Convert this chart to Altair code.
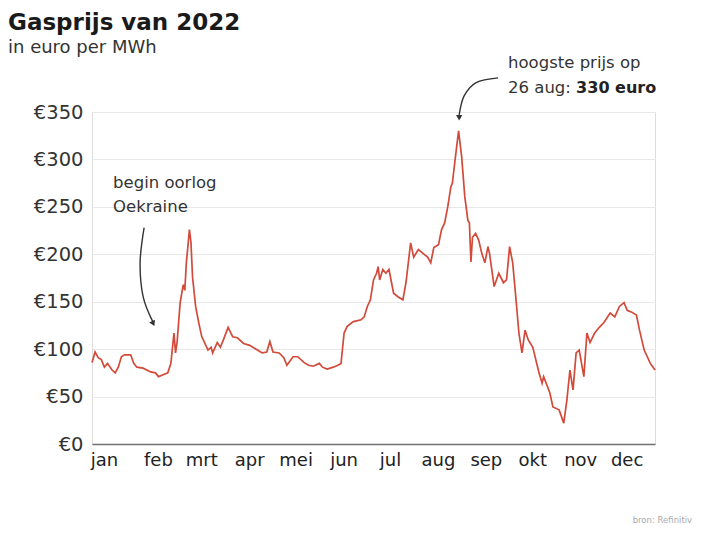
import altair as alt
import pandas as pd

# day of year (0 = 1 jan 2022) and gas price (euro per MWh)
days = [0, 2, 4, 6, 8, 10, 13, 15, 17, 19,
        21, 25, 27, 29, 33, 38, 41, 43, 46, 49,
        51, 53, 54, 55, 57, 59, 60, 61, 63, 64,
        65, 67, 69, 71, 73, 75, 77, 78, 81, 83,
        85, 88, 91, 94, 98, 102, 107, 110, 113, 115,
        117, 121, 124, 126, 130, 133, 137, 140, 143, 147,
        149, 152, 156, 159, 161, 163, 165, 169, 174, 176,
        178, 180, 182, 184, 185, 186, 188, 190, 192, 195,
        198, 201, 203, 206, 208, 211, 214, 217, 219, 221,
        224, 226, 228, 230, 232, 233, 235, 237, 239, 241,
        243, 244, 245, 246, 248, 250, 252, 254, 256, 257,
        260, 263, 266, 268, 270, 272, 274, 276, 278, 280,
        282, 285, 289, 291, 292, 296, 298, 302, 305, 307,
        309, 311, 313, 315, 318, 320, 322, 325, 328, 331,
        335, 338, 341, 344, 346, 349, 352, 354, 357, 361,
        364]
prices = [86, 97, 91, 89, 81, 85, 78, 75, 81, 92,
          94, 94, 85, 81, 80, 76, 75, 71, 73, 75,
          85, 117, 96, 107, 149, 168, 162, 191, 226, 212,
          176, 145, 128, 113, 106, 99, 102, 96, 107, 102,
          110, 123, 113, 112, 106, 104, 99, 96, 97, 108,
          97, 96, 91, 83, 92, 92, 86, 83, 82, 85,
          81, 79, 81, 83, 85, 117, 124, 129, 131, 134,
          145, 152, 173, 180, 187, 173, 184, 180, 184, 159,
          155, 152, 170, 212, 197, 205, 201, 197, 191, 207,
          210, 226, 233, 250, 271, 275, 303, 330, 303, 261,
          236, 233, 192, 218, 222, 215, 201, 191, 208, 201,
          166, 180, 170, 173, 208, 191, 155, 117, 96, 120,
          110, 102, 75, 64, 71, 54, 39, 36, 22, 46,
          78, 57, 96, 99, 71, 117, 107, 117, 123, 128,
          138, 134, 145, 149, 141, 139, 136, 120, 99, 85,
          78]

month_names = ["jan", "feb", "mrt", "apr", "mei", "jun",
               "jul", "aug", "sep", "okt", "nov", "dec"]
y_ticks = [0, 50, 100, 150, 200, 250, 300, 350]

# annotations (day of year, value)
ann_days = [13.6, 13.6, 269, 269]
ann_vals = [275, 250, 402, 375.5]
ann_text = ["begin oorlog", "Oekraine", "hoogste prijs op", "26 aug:"]
bold_day, bold_val, bold_text = 313, 375.5, "330 euro"
arrow_id = [1, 1, 1, 1, 2, 2, 2, 2]
arrow_days = [33.7, 31.1, 33.1, 39.3, 262.6, 248.4, 240.6, 237.4]
arrow_vals = [228, 191, 155, 129, 386, 381, 367, 347]
head_days = [39.6, 237.4]
head_vals = [127, 344]
head_angles = [335, 0]
src_day, src_val, src_text = 388, -80, "bron: Refinitiv"

base = pd.Timestamp("2022-01-01")


def to_date(d):
    return [base + pd.Timedelta(days=float(x)) for x in d]


df = pd.DataFrame({"date": to_date(days), "value": prices})
ann = pd.DataFrame({"date": to_date(ann_days), "value": ann_vals, "text": ann_text})
bold = pd.DataFrame({"date": to_date([bold_day]), "value": [bold_val], "text": [bold_text]})
arr = pd.DataFrame({"date": to_date(arrow_days), "value": arrow_vals,
                    "id": arrow_id, "order": list(range(len(arrow_days)))})
heads = pd.DataFrame({"date": to_date(head_days), "value": head_vals, "angle": head_angles})
src = pd.DataFrame({"date": to_date([src_day]), "value": [src_val], "text": [src_text]})

FONT = "DejaVu Sans"
label_expr = "[" + ",".join("'%s'" % m for m in month_names) + "][month(datum.value)]"

x_enc = alt.X(
    "date:T",
    title=None,
    scale=alt.Scale(domain=[alt.DateTime(year=2022, month=1, date=1),
                            alt.DateTime(year=2022, month=12, date=31)]),
    axis=alt.Axis(
        tickCount={"interval": "month", "step": 1},
        labelExpr=label_expr,
        labelAlign="center",
        labelOffset={"condition": {"test": "month(datum.value) == 0", "value": 12}, "value": 18},
        labelFontSize=18,
        labelColor="#222222",
        labelFont=FONT,
        labelPadding=7,
        ticks=False,
        grid=False,
        domainColor="#707070",
        domainWidth=1.5,
        labelFlush=False,
        labelOverlap=False,
    ),
)
y_enc = alt.Y(
    "value:Q",
    title=None,
    scale=alt.Scale(domain=[0, 350], nice=False),
    axis=alt.Axis(
        values=y_ticks,
        labelExpr="'€' + datum.value",
        labelFontSize=19.5,
        labelColor="#333333",
        labelFont=FONT,
        labelPadding=9,
        ticks=False,
        domain=False,
        gridColor="#e8e8e8",
        gridWidth=1,
    ),
)

line = alt.Chart(df).mark_line(color="#d24a3a", strokeWidth=1.7).encode(x=x_enc, y=y_enc)

arrows = alt.Chart(arr).mark_line(color="#333333", strokeWidth=1.4, interpolate="cardinal").encode(
    x=x_enc, y=y_enc, detail="id:N", order="order:Q")

arrowheads = alt.Chart(heads).mark_point(shape="triangle-down", filled=True, size=40,
                                         color="#333333", opacity=1).encode(
    x=x_enc, y=y_enc, angle=alt.Angle("angle:Q", scale=None))

texts = alt.Chart(ann).mark_text(align="left", baseline="middle", fontSize=16.5,
                                 font=FONT, color="#333333").encode(x=x_enc, y=y_enc, text="text:N")
bold_t = alt.Chart(bold).mark_text(align="left", baseline="middle", fontSize=16, font=FONT,
                                   fontWeight="bold", color="#222222").encode(
    x=x_enc, y=y_enc, text="text:N")
src_t = alt.Chart(src).mark_text(align="right", baseline="middle", fontSize=8.5, font=FONT,
                                 color="#aaaaaa").encode(x=x_enc, y=y_enc, text="text:N")

chart = alt.layer(line, arrows, arrowheads, texts, bold_t, src_t).properties(
    width=563,
    height=332,
    autosize=alt.AutoSizeParams(type="none"),
    padding={"left": 84, "top": 104, "right": 59, "bottom": 83},
    title=alt.TitleParams(
        text="Gasprijs van 2022",
        subtitle="in euro per MWh",
        anchor="start",
        frame="group",
        dx=-84,
        offset=-2,
        font=FONT,
        fontSize=23,
        fontWeight="bold",
        color="#1a1a1a",
        subtitleFont=FONT,
        subtitleFontSize=18,
        subtitleColor="#333333",
        subtitlePadding=4,
    ),
).configure_view(stroke=None).configure(background="white")

chart.save("out.html", embed_options={"renderer": "svg", "actions": False})
